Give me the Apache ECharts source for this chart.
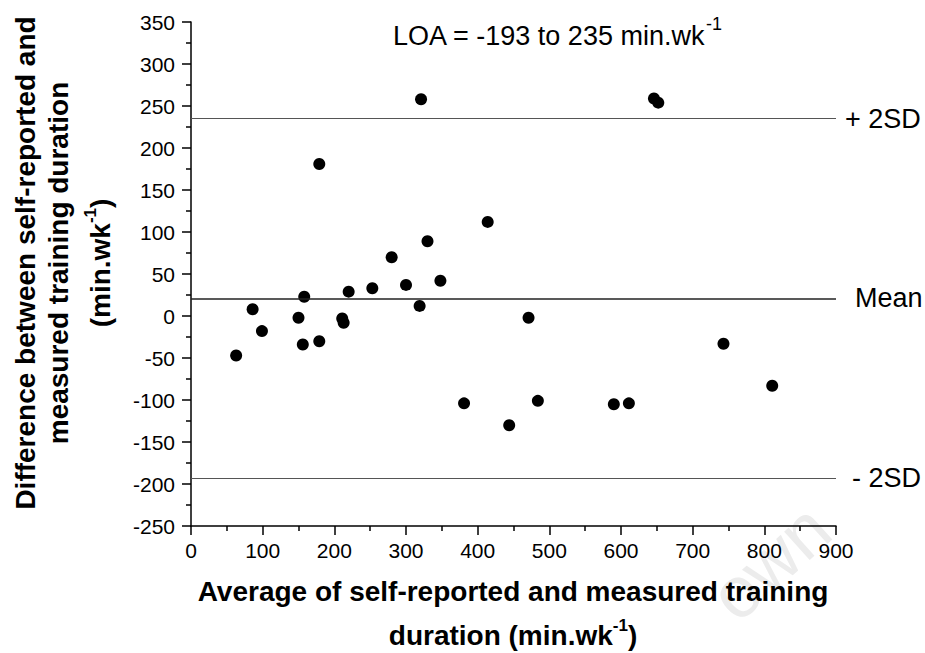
<!DOCTYPE html>
<html>
<head>
<meta charset="utf-8">
<script src="https://cdn.jsdelivr.net/npm/echarts@6/dist/echarts.min.js"></script>
<style>
html,body{margin:0;padding:0;background:#ffffff;}
#chart{width:925px;height:653px;}
</style>
</head>
<body>
<div id="chart"></div>
<script>
// ---- data ----
const avgValues  = [321, 179, 330, 280, 348, 300, 253, 220, 158, 319, 86, 150, 211, 213, 99, 63, 156, 179, 381, 646, 652, 414, 471, 743, 811, 484, 444, 590, 611];
const diffValues = [258, 181, 89, 70, 42, 37, 33, 29, 23, 12, 8, -2, -3, -8, -18, -47, -34, -30, -104, 259, 254, 112, -2, -33, -83, -101, -130, -105, -104];
const refValues  = [235, 21, -193];            // +2SD, mean, -2SD
const refLabels  = ['+ 2SD', 'Mean', '- 2SD'];
const xMin = 0, xMax = 900, xStep = 100;
const yMin = -250, yMax = 350, yStep = 50;
const loaText = 'LOA = -193 to 235 min.wk';
const supText = '-1';
const xTitle1 = 'Average of self-reported and measured training';
const xTitle2 = 'duration (min.wk';
const yTitle1 = 'Difference between self-reported and';
const yTitle2 = 'measured training duration';
const yTitle3 = '(min.wk';
const watermark = 'own';

const FONT = "'Liberation Sans', Arial, Helvetica, sans-serif";
const chart = echarts.init(document.getElementById('chart'), null, {renderer: 'svg'});

const points = avgValues.map((x, i) => [x, diffValues[i]]);
const refStyles = [
  {color: '#555', width: 1, dist: 9},
  {color: '#222', width: 1.5, dist: 19},
  {color: '#555', width: 1, dist: 16}
];

const supRich = (size, lh) => ({
  m: {fontFamily: FONT, fontSize: size, fontWeight: 'bold', color: '#000', lineHeight: lh, verticalAlign: 'bottom'},
  s: {fontFamily: FONT, fontSize: 17, fontWeight: 'bold', color: '#000', lineHeight: 20, verticalAlign: 'top'}
});

const option = {
  backgroundColor: '#ffffff',
  animation: false,
  grid: {left: 191, right: 89, top: 22, bottom: 127, containLabel: false, outerBoundsMode: 'none'},
  xAxis: {
    type: 'value', min: xMin, max: xMax, interval: xStep,
    axisLine: {show: true, onZero: false, lineStyle: {color: '#000', width: 1.5}},
    axisTick: {show: true, length: 9, lineStyle: {color: '#000', width: 1.5}},
    minorTick: {show: true, splitNumber: 2, length: 5, lineStyle: {color: '#000', width: 1.5}},
    splitLine: {show: false},
    axisLabel: {fontFamily: FONT, fontSize: 21, color: '#000', margin: 14}
  },
  yAxis: {
    type: 'value', min: yMin, max: yMax, interval: yStep,
    axisLine: {show: true, onZero: false, lineStyle: {color: '#000', width: 1.5}},
    axisTick: {show: true, length: 9, lineStyle: {color: '#000', width: 1.5}},
    minorTick: {show: true, splitNumber: 2, length: 5, lineStyle: {color: '#000', width: 1.5}},
    splitLine: {show: false},
    axisLabel: {fontFamily: FONT, fontSize: 21, color: '#000', margin: 16}
  },
  series: [{
    type: 'scatter',
    data: points,
    symbol: 'circle',
    symbolSize: 12,
    itemStyle: {color: '#000', opacity: 1},
    z: 3,
    markLine: {
      silent: true,
      symbol: ['none', 'none'],
      animation: false,
      data: refValues.map((v, i) => ({
        yAxis: v,
        lineStyle: {type: 'solid', color: refStyles[i].color, width: refStyles[i].width, opacity: 1},
        label: {show: true, position: 'end', distance: refStyles[i].dist,
                formatter: refLabels[i], fontFamily: FONT, fontSize: 27, color: '#000'}
      }))
    }
  }],
  graphic: [
    {type: 'text', z: -10, x: 770, y: 562, rotation: 42 * Math.PI / 180, silent: true,
     style: {text: watermark, fontFamily: FONT, fontSize: 72, fill: '#ececec', align: 'center', verticalAlign: 'middle'}},
    {type: 'text', x: 393, y: 32,
     style: {text: '{m|' + loaText + '}{s|' + supText + '}', align: 'left', verticalAlign: 'middle',
             rich: {
               m: {fontFamily: FONT, fontSize: 27, color: '#000', lineHeight: 34, verticalAlign: 'bottom'},
               s: {fontFamily: FONT, fontSize: 18, color: '#000', lineHeight: 18, verticalAlign: 'top'}
             }}},
    {type: 'text', x: 513, y: 591,
     style: {text: xTitle1, fontFamily: FONT, fontSize: 28, fontWeight: 'bold', fill: '#000', align: 'center', verticalAlign: 'middle'}},
    {type: 'text', x: 513, y: 633,
     style: {text: '{m|' + xTitle2 + '}{s|' + supText + '}{m|)}', align: 'center', verticalAlign: 'middle', rich: supRich(28, 32)}},
    {type: 'text', x: 25, y: 263, rotation: Math.PI / 2,
     style: {text: yTitle1, fontFamily: FONT, fontSize: 28, fontWeight: 'bold', fill: '#000', align: 'center', verticalAlign: 'middle'}},
    {type: 'text', x: 58, y: 263, rotation: Math.PI / 2,
     style: {text: yTitle2, fontFamily: FONT, fontSize: 28, fontWeight: 'bold', fill: '#000', align: 'center', verticalAlign: 'middle'}},
    {type: 'text', x: 98, y: 263, rotation: Math.PI / 2,
     style: {text: '{m|' + yTitle3 + '}{s|' + supText + '}{m|)}', align: 'center', verticalAlign: 'middle', rich: supRich(28, 32)}}
  ]
};
chart.setOption(option);
</script>
</body>
</html>
